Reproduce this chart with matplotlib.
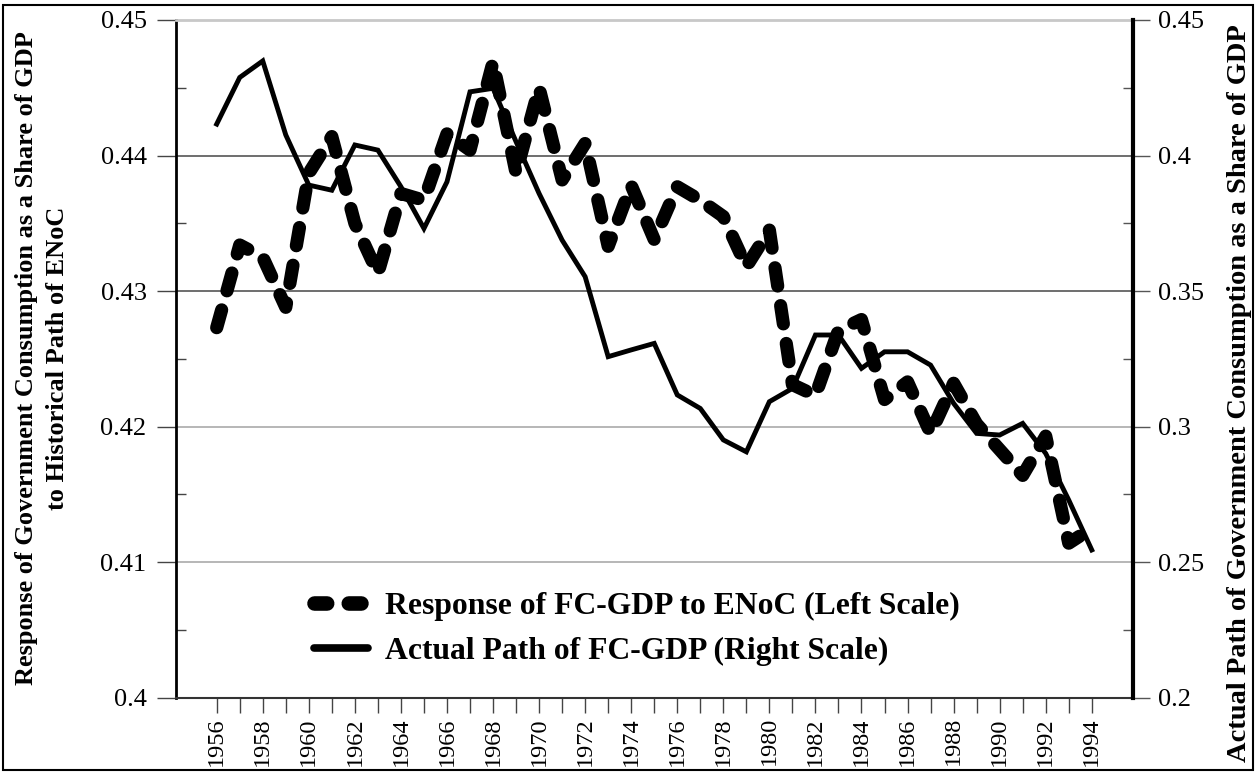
import numpy as np
import matplotlib
matplotlib.use('Agg')
from matplotlib import pyplot as plt
from matplotlib.lines import Line2D
from matplotlib.patches import Rectangle
from matplotlib.ticker import MultipleLocator, FixedLocator

# data
years = list(range(1956, 1995))
response = [0.4273, 0.4334, 0.4325, 0.4288, 0.4387, 0.4414, 0.4350, 0.4313, 0.4372, 0.4367,
            0.4416, 0.4404, 0.4469, 0.4387, 0.4450, 0.4382, 0.4409, 0.4333, 0.4378, 0.4338,
            0.4377, 0.4367, 0.4355, 0.4318, 0.4345, 0.4231, 0.4223, 0.4271, 0.4279, 0.4220,
            0.4233, 0.4195, 0.4232, 0.4202, 0.4183, 0.4164, 0.4193, 0.4114, 0.4125]
actual = [0.4116, 0.4288, 0.4349, 0.4076, 0.3891, 0.3872, 0.4039, 0.4020, 0.3885, 0.3731,
          0.3903, 0.4235, 0.4248, 0.4051, 0.3860, 0.3688, 0.3553, 0.3258, 0.3283, 0.3307,
          0.3117, 0.3067, 0.2951, 0.2907, 0.3092, 0.3141, 0.3338, 0.3338, 0.3215, 0.3276,
          0.3276, 0.3227, 0.3086, 0.2975, 0.2969, 0.3012, 0.2901, 0.2729, 0.2545]
left_ticks = [0.4, 0.41, 0.42, 0.43, 0.44, 0.45]
left_labels = ['0.4', '0.41', '0.42', '0.43', '0.44', '0.45']
right_ticks = [0.2, 0.25, 0.3, 0.35, 0.4, 0.45]
right_labels = ['0.2', '0.25', '0.3', '0.35', '0.4', '0.45']
left_title = 'Response of Government Consumption as a Share of GDP\nto Historical Path of ENoC'
right_title = 'Actual Path of Government Consumption as a Share of GDP'
legend_labels = ['Response of FC-GDP to ENoC (Left Scale)', 'Actual Path of FC-GDP (Right Scale)']

SERIF = ['Liberation Serif', 'DejaVu Serif']
plt.rcParams['font.family'] = SERIF
plt.rcParams['font.serif'] = SERIF

W, H = 1257, 772
fig = plt.figure(figsize=(W / 100, H / 100), dpi=100)
ax = fig.add_axes([175.7 / W, 1 - 697.7 / H, (1133 - 175.7) / W, (697.7 - 20) / H])
ax2 = ax.twinx()

# lines
ax.plot(years, response, color='black', lw=9.5, dashes=(1.4, 1.5),
        dash_capstyle='round', solid_capstyle='round', zorder=3)
ax2.plot(years, actual, color='black', lw=3.5, solid_joinstyle='miter', zorder=3)

ax.set_xlim(1954.22, 1995.79)
ax.set_ylim(0.4, 0.45)
ax2.set_ylim(0.2, 0.45)

# x axis
ax.xaxis.set_major_locator(FixedLocator(years))
ax.set_xticklabels([str(y) if y % 2 == 0 else '' for y in years], rotation=90,
                   fontsize=17.5, family=SERIF)
ax.tick_params(axis='x', direction='out', length=11, width=1, color='#444', pad=3)

# left axis
ax.set_yticks(left_ticks)
ax.set_yticklabels(left_labels, fontsize=19, family=SERIF)
ax.yaxis.set_minor_locator(MultipleLocator(0.005))
ax.tick_params(axis='y', which='major', direction='out', length=14, width=1, color='#444', pad=7)
ax.tick_params(axis='y', which='minor', direction='in', length=7.5, width=1, color='#444')

# right axis
ax2.set_yticks(right_ticks)
ax2.set_yticklabels(right_labels, fontsize=19, family=SERIF)
ax2.yaxis.set_minor_locator(MultipleLocator(0.025))
ax2.tick_params(axis='y', which='major', direction='out', length=12, width=1, color='#555', pad=6)
ax2.tick_params(axis='y', which='minor', direction='in', length=7.5, width=1, color='#555')

# gridlines
ax.grid(axis='y', which='major', lw=1.2)
grid_cols = ['#333', '#aaa', '#aaa', '#555', '#555', '#c8c8c8']
for gl, c in zip(ax.get_ygridlines(), grid_cols):
    gl.set_color(c)

# spines
for s in ['left', 'right', 'top', 'bottom']:
    ax2.spines[s].set_visible(False)
ax2.spines['right'].set_visible(True)
ax2.spines['right'].set_linewidth(3)
ax.spines['right'].set_visible(False)
ax.spines['left'].set_linewidth(2)
ax.spines['top'].set_color('#c8c8c8')
ax.spines['top'].set_linewidth(2)
ax.spines['bottom'].set_color('#333')
ax.spines['bottom'].set_linewidth(1.5)

# axis titles
fig.text(42 / W, 1 - 358 / H, left_title, rotation=90, ha='center', va='center',
         fontsize=19, fontweight='bold', linespacing=1.45, multialignment='center',
         family=SERIF)
fig.text(1240 / W, 1 - 393 / H, right_title, rotation=90, ha='center', va='center',
         fontsize=20.5, fontweight='bold', family=SERIF)

# legend
h1 = Line2D([], [], color='black', lw=10.5, dashes=(0.87, 1.48), dash_capstyle='round')
h2 = Line2D([], [], color='black', lw=5.5, solid_capstyle='round')
leg = ax.legend([h1, h2], legend_labels, loc='upper left',
                bbox_to_anchor=(314 / W, 1 - 592 / H), bbox_transform=fig.transFigure,
                frameon=False, borderpad=0, borderaxespad=0, handlelength=1.705,
                handletextpad=0.54, labelspacing=0.49,
                prop={'size': 22.8, 'weight': 'bold', 'family': SERIF})

# outer border
fig.patches.append(Rectangle((3 / W, 2 / H), 1250 / W, 765 / H, transform=fig.transFigure,
                             fill=False, ec='black', lw=1.5))

fig.savefig('out.png', dpi=100)
